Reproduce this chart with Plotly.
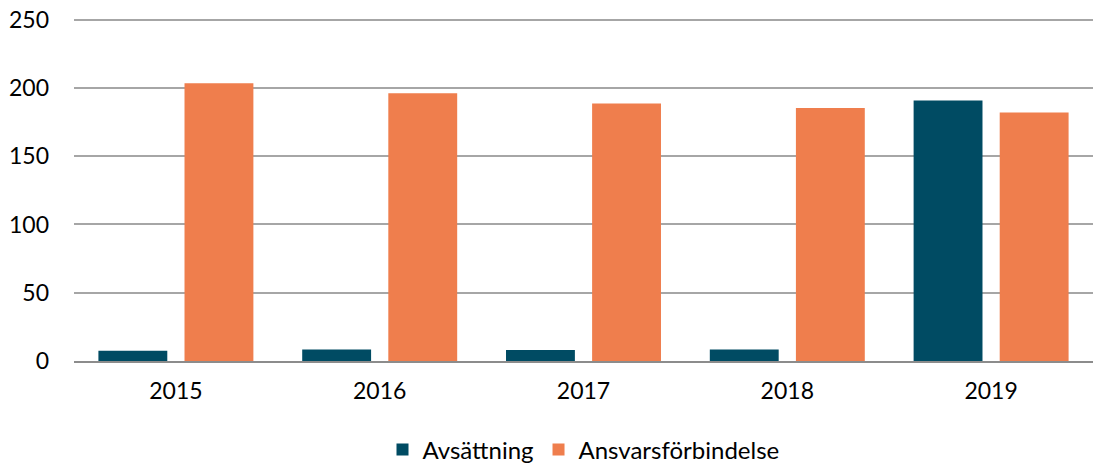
import plotly.graph_objects as go

years = ["2015", "2016", "2017", "2018", "2019"]
avsattning = [7.5, 8.5, 8.0, 8.5, 190.8]
ansvarsforbindelse = [203.5, 196.2, 188.6, 185.4, 182.0]
y_ticks = [0, 50, 100, 150, 200, 250]

fig = go.Figure()
fig.add_trace(go.Bar(x=years, y=avsattning, name="Avsättning",
                     marker=dict(color="#004B63", line=dict(width=0))))
fig.add_trace(go.Bar(x=years, y=ansvarsforbindelse, name="Ansvarsförbindelse",
                     marker=dict(color="#EF7E4D", line=dict(width=0))))

font_family = "Lato"
fig.update_layout(
    width=1096, height=466,
    margin=dict(l=74, r=3, t=17, b=105, autoexpand=False),
    paper_bgcolor="white", plot_bgcolor="white",
    barmode="group", bargap=0.155, bargroupgap=0.2,
    font=dict(family=font_family, size=22, color="#000000"),
    showlegend=True,
    legend=dict(orientation="h", x=0.5, xanchor="center", y=-0.193, yanchor="top",
                font=dict(size=24), itemsizing="constant", traceorder="normal",
                itemwidth=30),
    xaxis=dict(showgrid=False, showline=True, linecolor="#8C8C8C", linewidth=2,
               ticks="", ticklabelstandoff=8, tickfont=dict(size=23), automargin=False),
    yaxis=dict(range=[0, 252], tickvals=y_ticks, showgrid=True, gridcolor="#A6A6A6",
               gridwidth=2, zeroline=False, showline=False, ticks="",
               ticklabelstandoff=24, tickfont=dict(size=23), automargin=False),
)
fig.write_html("out.html", config={"displayModeBar": False},
               post_script="document.body.style.margin='0';document.body.style.padding='0';")
